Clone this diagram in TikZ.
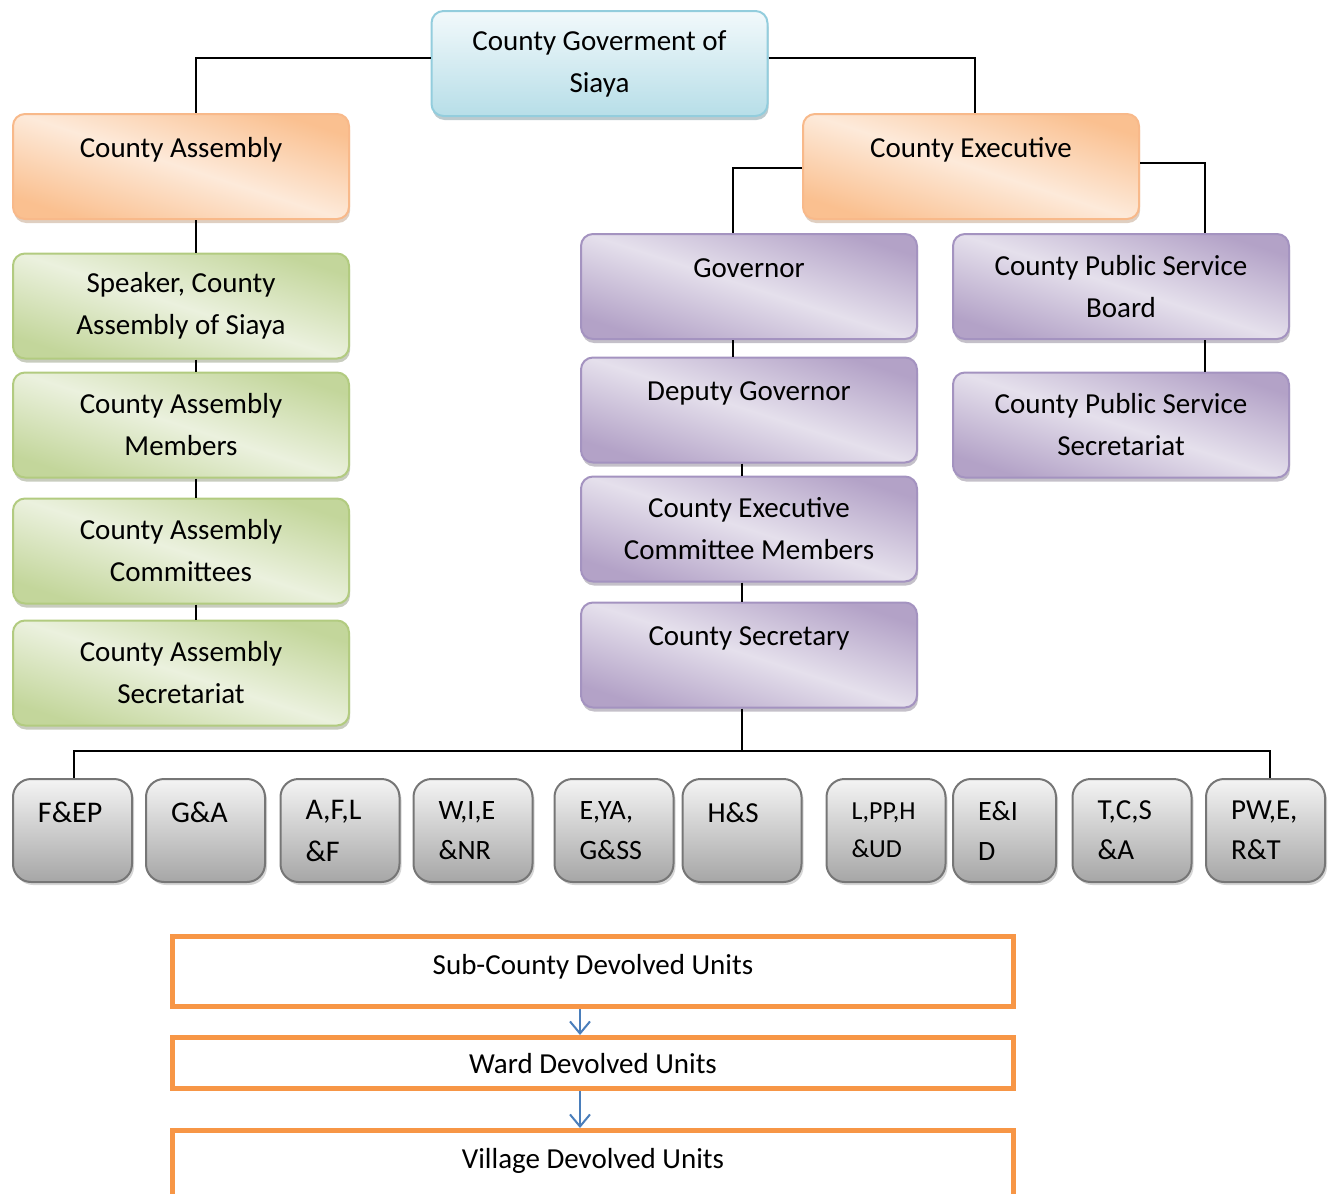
\documentclass[tikz,border=0pt]{standalone}
\usepackage{fontspec}
\setmainfont{Carlito}
\usetikzlibrary{shadows,arrows.meta}

\definecolor{bluetop}{HTML}{F2F9FB}
\definecolor{bluebot}{HTML}{B7DEE8}
\definecolor{blueedge}{HTML}{93CDDD}
\definecolor{orangedark}{HTML}{FAC090}
\definecolor{orangelight}{HTML}{FDEADA}
\definecolor{orangeedge}{HTML}{F8B98A}
\definecolor{greendark}{HTML}{C3D69B}
\definecolor{greenlight}{HTML}{EBF1DE}
\definecolor{greenedge}{HTML}{B2CB80}
\definecolor{purpledark}{HTML}{B3A2C7}
\definecolor{purplelight}{HTML}{E5E0EC}
\definecolor{purpleedge}{HTML}{A493C0}
\definecolor{graytop}{HTML}{F4F4F4}
\definecolor{graybot}{HTML}{A6A6A6}
\definecolor{grayedge}{HTML}{767676}
\definecolor{unitedge}{HTML}{F79646}
\definecolor{arrowblue}{HTML}{4A7EBB}

\begin{document}
\begin{tikzpicture}[x=0.5pt, y=-0.5pt,
		box/.style={rectangle, rounded corners=6pt, minimum width=168pt, minimum height=52.5pt, align=center, line width=1pt, inner sep=0pt, font=\fontsize{14.5}{21}\selectfont},
		oneline/.style={text height=10.3pt, text depth=19.4pt},
		diag/.style 2 args={top color=#1, bottom color=#1, middle color=#2, shading angle=-18},
		topbox/.style={box, draw=blueedge, top color=bluetop, bottom color=bluebot, drop shadow={shadow xshift=0.5pt, shadow yshift=-2pt, fill=blueedge!60!black, opacity=0.4}},
		orangebox/.style={box, draw=orangeedge, diag={orangedark}{orangelight}, drop shadow={shadow xshift=0.5pt, shadow yshift=-2pt, fill=orangedark!70!black, opacity=0.4}},
		greenbox/.style={box, draw=greenedge, diag={greendark}{greenlight}, drop shadow={shadow xshift=0.5pt, shadow yshift=-2pt, fill=greendark!60!black, opacity=0.4}},
		purplebox/.style={box, draw=purpleedge, diag={purpledark}{purplelight}, drop shadow={shadow xshift=0.5pt, shadow yshift=-2pt, fill=purpledark!60!black, opacity=0.4}},
		deptbox/.style={rectangle, rounded corners=9pt, minimum height=51.5pt, inner xsep=12.5pt, inner ysep=0pt, text width=#1, align=left, line width=1pt, draw=grayedge, top color=graytop, bottom color=graybot, drop shadow={shadow xshift=1pt, shadow yshift=-1.5pt, fill=black!40, opacity=0.4}},
		deptbox/.default=34.5pt,
		deptone/.style={text height=10.3pt, text depth=18.2pt},
		unitbox/.style={rectangle, minimum width=420.5pt, line width=2.5pt, draw=unitedge, fill=white, inner sep=0pt, font=\fontsize{14.5}{21}\selectfont},
		conn/.style={draw=black, line width=0.9pt},
		unitarrow/.style={draw=arrowblue, line width=1pt, -{Straight Barb[length=6pt, width=10pt]}}]
	\useasboundingbox (0,0) rectangle (1335,1194);
	\clip (0,0) rectangle (1335,1194);

	% top of the chart
	\node[topbox] (gov) at (599.5,63.5) {County Goverment of\\Siaya};
	\node[orangebox, oneline] (ca) at (181,166.5) {County Assembly};
	\node[orangebox, oneline] (ce) at (971,166.5) {County Executive};

	% assembly side
	\node[greenbox] (spk) at (181,306) {Speaker, County\\Assembly of Siaya};
	\node[greenbox] (mem) at (181,425) {County Assembly\\Members};
	\node[greenbox] (com) at (181,551) {County Assembly\\Committees};
	\node[greenbox] (csec) at (181,673) {County Assembly\\Secretariat};

	% executive side
	\node[purplebox, oneline] (govr) at (749,286.5) {Governor};
	\node[purplebox, oneline] (dep) at (749,410) {Deputy Governor};
	\node[purplebox] (cecm) at (749,529) {County Executive\\Committee Members};
	\node[purplebox, oneline] (csy) at (749,655) {County Secretary};
	\node[purplebox] (psb) at (1121,286.5) {County Public Service\\Board};
	\node[purplebox] (pss) at (1121,425) {County Public Service\\Secretariat};

	% departments
	\node[deptbox, deptone, font=\fontsize{15}{21}\selectfont] (fep) at (72.5,830.5) {F\&EP};
	\node[deptbox, deptone, font=\fontsize{15}{21}\selectfont] (ga) at (205.5,830.5) {G\&A};
	\node[deptbox, font=\fontsize{15}{21}\selectfont] (afl) at (340,830.5) {A,F,L\\\&F};
	\node[deptbox, font=\fontsize{14}{20}\selectfont] (wie) at (473,830.5) {W,I,E\\\&NR};
	\node[deptbox, font=\fontsize{14}{20}\selectfont] (eya) at (614,830.5) {E,YA,\\G\&SS};
	\node[deptbox, deptone, font=\fontsize{14.5}{21}\selectfont] (hs) at (742,830.5) {H\&S};
	\node[deptbox, font=\fontsize{13}{19}\selectfont] (lpp) at (886,830.5) {L,PP,H\\\&UD};
	\node[deptbox=26.5pt, font=\fontsize{14}{20}\selectfont] (eid) at (1004.5,830.5) {E\&I\\D};
	\node[deptbox, font=\fontsize{14.5}{20}\selectfont] (tcs) at (1132,830.5) {T,C,S\\\&A};
	\node[deptbox, font=\fontsize{14.5}{20}\selectfont] (pw) at (1265.5,830.5) {PW,E,\\R\&T};

	% devolved units
	\node[unitbox, minimum height=35pt, text height=10.3pt, text depth=7.4pt] (sub) at (593,971.5) {Sub-County Devolved Units};
	\node[unitbox, minimum height=25.5pt, text height=10.4pt, text depth=0pt] (ward) at (593,1063) {Ward Devolved Units};
	\node[unitbox, minimum height=40pt, text height=10.3pt, text depth=12.4pt] (vil) at (593,1170.5) {Village Devolved Units};

	% connectors
	\draw[conn] ([yshift=2.75pt]gov.west) -| ([xshift=7.5pt]ca.north);
	\draw[conn] ([yshift=2.75pt]gov.east) -| ([xshift=2pt]ce.north);
	\draw[conn] ([xshift=7.5pt]ca.south) -- ([xshift=7.5pt]spk.north);
	\draw[conn] ([xshift=7.5pt]spk.south) -- ([xshift=7.5pt]mem.north);
	\draw[conn] ([xshift=7.5pt]mem.south) -- ([xshift=7.5pt]com.north);
	\draw[conn] ([xshift=7.5pt]com.south) -- ([xshift=7.5pt]csec.north);
	\draw[conn] ([yshift=-0.75pt]ce.west) -| ([xshift=-8pt]govr.north);
	\draw[conn] ([yshift=1.75pt]ce.east) -| ([xshift=42pt]psb.north);
	\draw[conn] ([xshift=-8pt]govr.south) -- ([xshift=-8pt]dep.north);
	\draw[conn] ([xshift=-3.5pt]dep.south) -- ([xshift=-3.5pt]cecm.north);
	\draw[conn] ([xshift=-3.5pt]cecm.south) -- ([xshift=-3.5pt]csy.north);
	\draw[conn] ([xshift=42pt]psb.south) -- ([xshift=42pt]pss.north);
	\coordinate (bus) at (742,751);
	\draw[conn] ([xshift=-3.5pt]csy.south) -- (bus);
	\draw[conn] ([xshift=0.75pt]fep.north) |- (bus) -| ([xshift=2.25pt]pw.north);

	\draw[unitarrow] ([xshift=-6.5pt]sub.south) -- ([xshift=-6.5pt]ward.north);
	\draw[unitarrow] ([xshift=-6.5pt]ward.south) -- ([xshift=-6.5pt]vil.north);
\end{tikzpicture}
\end{document}
